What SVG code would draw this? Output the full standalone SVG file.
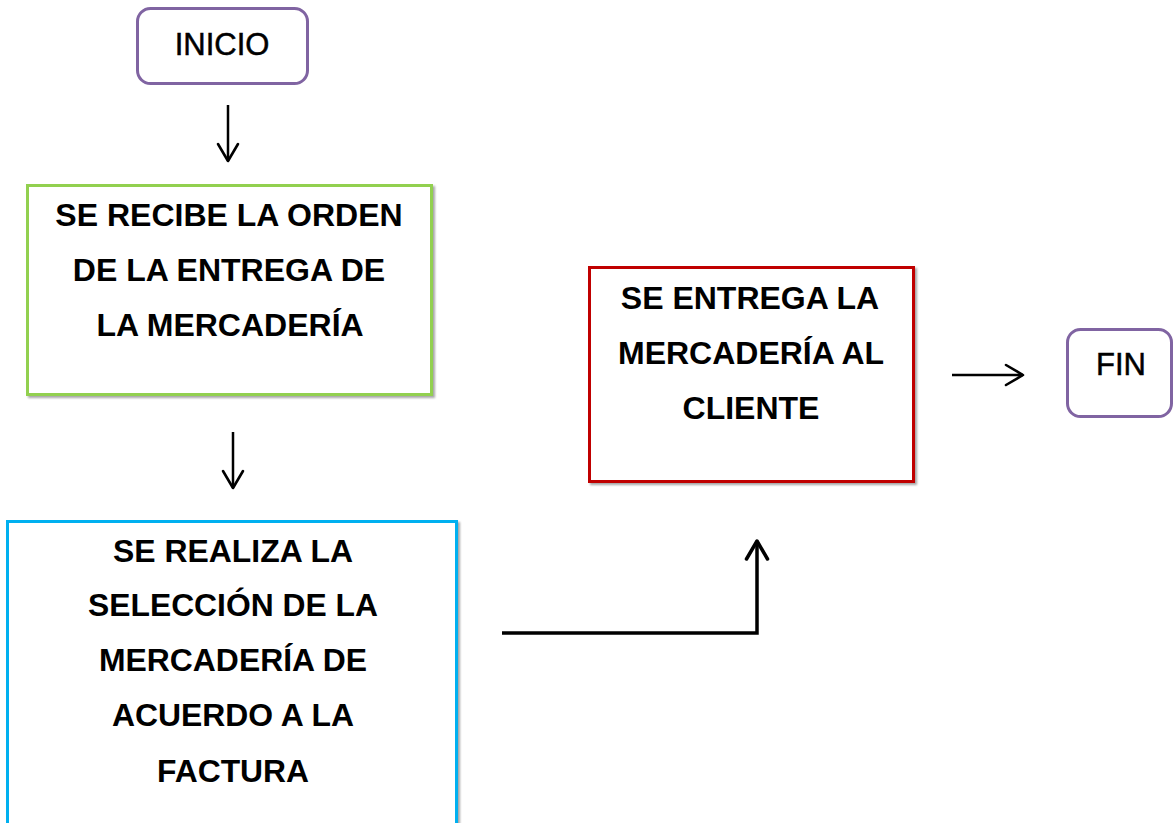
<svg xmlns="http://www.w3.org/2000/svg" width="1173" height="823" viewBox="0 0 1173 823">
  <style>
    .term { fill: #ffffff; stroke: #8064A2; stroke-width: 3; }
    .proc { fill: #ffffff; stroke-width: 3; }
    .bold { font-family: "Liberation Sans", Arial, sans-serif; font-weight: bold; font-size: 32px; fill: #000000; text-anchor: middle; }
    .reg { font-family: "Liberation Sans", Arial, sans-serif; font-size: 31px; fill: #000000; stroke: #000000; stroke-width: 0.5; text-anchor: middle; }
    .conn { fill: none; stroke: #000000; stroke-width: 2.5; }
    .conn-thick { fill: none; stroke: #000000; stroke-width: 3.5; }
  </style>
  <defs>
    <filter id="shadow" x="-5%" y="-5%" width="115%" height="115%">
      <feDropShadow dx="2" dy="2" stdDeviation="1.2" flood-color="#000000" flood-opacity="0.35"/>
    </filter>
    <marker id="open" markerUnits="userSpaceOnUse" markerWidth="24" markerHeight="24" viewBox="0 0 24 24" refX="20" refY="12" orient="auto">
      <path d="M3,2 L20,12 L3,22" fill="none" stroke="#000000" stroke-width="2.6" stroke-linecap="round" stroke-linejoin="round"/>
    </marker>
    <marker id="openThick" markerUnits="userSpaceOnUse" markerWidth="26" markerHeight="26" viewBox="0 0 26 26" refX="21" refY="13" orient="auto">
      <path d="M3,2.5 L21,13 L3,23.5" fill="none" stroke="#000000" stroke-width="3.5" stroke-linecap="round" stroke-linejoin="round"/>
    </marker>
  </defs>

  <rect width="1173" height="823" fill="#ffffff"/>

  <g id="inicio">
    <rect class="term" x="137.5" y="8.5" width="170" height="75" rx="13"/>
    <text class="reg" x="222" y="55">INICIO</text>
  </g>

  <g id="recibe">
    <rect class="proc" x="27.5" y="185.5" width="404" height="209" stroke="#92D050" filter="url(#shadow)"/>
    <text class="bold" x="229" y="226">SE RECIBE LA ORDEN</text>
    <text class="bold" x="229" y="281">DE LA ENTREGA DE</text>
    <text class="bold" x="230" y="336">LA MERCADERÍA</text>
  </g>

  <g id="seleccion">
    <rect class="proc" x="7.5" y="521.5" width="449" height="320" stroke="#00B0F0" filter="url(#shadow)"/>
    <text class="bold" x="233" y="562" textLength="240" lengthAdjust="spacingAndGlyphs">SE REALIZA LA</text>
    <text class="bold" x="233" y="616" textLength="290" lengthAdjust="spacingAndGlyphs">SELECCIÓN DE LA</text>
    <text class="bold" x="233" y="671" textLength="268" lengthAdjust="spacingAndGlyphs">MERCADERÍA DE</text>
    <text class="bold" x="233" y="726" textLength="242" lengthAdjust="spacingAndGlyphs">ACUERDO A LA</text>
    <text class="bold" x="233" y="782" textLength="152" lengthAdjust="spacingAndGlyphs">FACTURA</text>
  </g>

  <g id="entrega">
    <rect class="proc" x="589.5" y="267.5" width="324" height="214" stroke="#C00000" filter="url(#shadow)"/>
    <text class="bold" x="750" y="309">SE ENTREGA LA</text>
    <text class="bold" x="751" y="364">MERCADERÍA AL</text>
    <text class="bold" x="751" y="419">CLIENTE</text>
  </g>

  <g id="fin">
    <rect class="term" x="1067.5" y="329.5" width="104" height="87" rx="13"/>
    <text class="reg" x="1121" y="375">FIN</text>
  </g>

  <g id="connectors">
    <line class="conn" x1="228" y1="105" x2="228" y2="161" marker-end="url(#open)"/>
    <line class="conn" x1="233" y1="432" x2="233" y2="488" marker-end="url(#open)"/>
    <polyline class="conn-thick" points="502,633 757,633 757,541" marker-end="url(#openThick)"/>
    <line class="conn" x1="952" y1="375" x2="1023" y2="375" marker-end="url(#open)"/>
  </g>
</svg>
